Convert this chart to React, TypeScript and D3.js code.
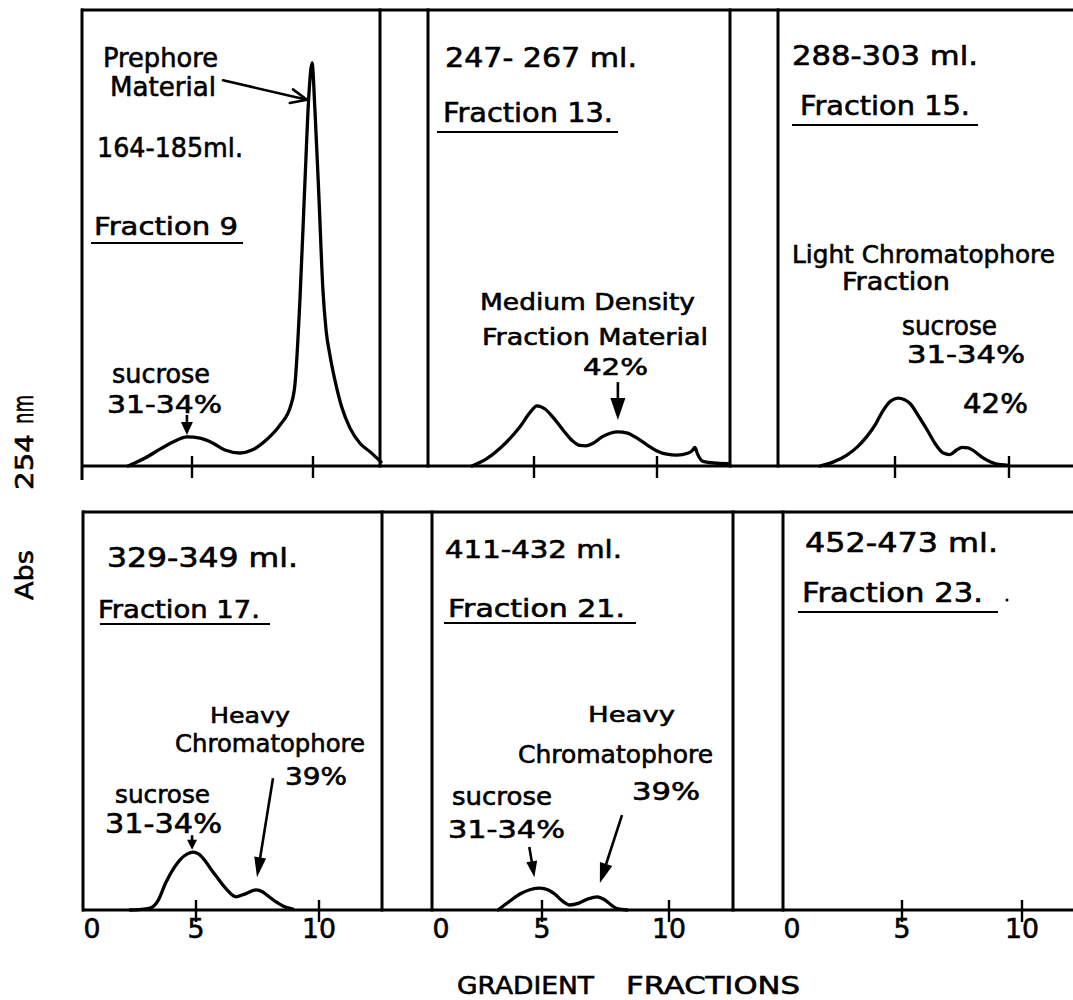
import React from 'react';
import * as d3 from 'd3';

// ---------- DATA (gradient fraction, absorbance in arbitrary units) ----------
const VOLUME_LABELS = ['164-185ml.', '247- 267 ml.', '288-303 ml.', '329-349 ml.', '411-432 ml.', '452-473 ml.'];
const FRACTION_LABELS = ['Fraction 9', 'Fraction 13.', 'Fraction 15.', 'Fraction 17.', 'Fraction 21.', 'Fraction 23.'];
const TICK_VALUES = [5, 10];
const TICK_LABELS = [0, 5, 10];
const X_TITLE = ['GRADIENT', 'FRACTIONS'];
const Y_TITLE = ['Abs', '254', 'nm'];

const frac9: [number, number][] = [
  [2.36, 0], [3.06, 1.75], [3.68, 3.7], [4.3, 5.5], [4.79, 6.4], [5.33, 6.1], [5.87, 5.0],
  [6.36, 3.5], [6.98, 2.85], [7.48, 3.5], [8.02, 5.5], [8.64, 9.0], [9.09, 13.4], [9.26, 18.2],
  [9.46, 36.4], [9.67, 62.7], [9.83, 81.4], [9.96, 88.4], [10.08, 78.1], [10.25, 58.3],
  [10.41, 38.6], [10.54, 29.8], [10.7, 24.3], [10.95, 17.8], [11.2, 12.7], [11.53, 8.3],
  [11.94, 5.0], [12.36, 3.1], [12.81, 0.9],
];
const frac13: [number, number][] = [
  [2.48, 0], [3.05, 1.5], [3.62, 3.9], [4.43, 8.6], [4.85, 11.8], [5.12, 13.2], [5.45, 12.5],
  [5.8, 10.5], [6.18, 7.9], [6.55, 5.6], [6.87, 4.5], [7.1, 4.4], [7.4, 5.0], [7.8, 6.5],
  [8.41, 7.5], [8.8, 7.2], [9.19, 6.1], [9.6, 4.6], [10.0, 3.3], [10.4, 2.6], [10.81, 2.4],
  [11.25, 2.8], [11.45, 3.5], [11.54, 4.1], [11.65, 2.6], [11.87, 1.0], [12.44, 0.6], [12.9, 0.5],
];
const frac15: [number, number][] = [
  [1.71, 0], [2.3, 0.9], [2.89, 2.4], [3.35, 4.2], [3.77, 6.5], [4.15, 9.2], [4.47, 12.1],
  [4.8, 14.2], [5.13, 14.9], [5.4, 14.6], [5.66, 13.7], [6.05, 10.8], [6.4, 8.0], [6.75, 5.0],
  [7.1, 2.9], [7.41, 2.5], [7.7, 3.5], [7.94, 4.1], [8.2, 4.0], [8.37, 3.6], [8.86, 1.8],
  [9.2, 0.9], [9.47, 0.4], [9.91, 0.2],
];
const frac17: [number, number][] = [
  [2.32, 0], [2.7, 0.1], [3.13, 0.4], [3.45, 2.0], [3.78, 6.1], [4.1, 9.2], [4.35, 11.0],
  [4.65, 12.3], [4.88, 12.7], [5.1, 12.3], [5.37, 10.8], [5.6, 9.0], [5.81, 7.5], [6.2, 4.8],
  [6.63, 2.9], [7.03, 3.6], [7.44, 4.4], [7.7, 4.0], [7.85, 3.4], [8.25, 1.8], [8.6, 0.7],
  [8.94, 0.2],
];
const frac21: [number, number][] = [
  [3.27, 0], [3.7, 1.8], [4.13, 3.5], [4.55, 4.5], [4.92, 4.8], [5.25, 4.4], [5.5, 3.5],
  [5.8, 2.0], [6.1, 1.1], [6.45, 1.5], [6.8, 2.4], [7.17, 2.9], [7.45, 2.3], [7.7, 1.2],
  [7.95, 0.3], [8.35, 0],
];
const frac23: [number, number][] = [];

const SERIES = [frac9, frac13, frac15, frac17, frac21, frac23];

// ---------- LAYOUT ----------
const W = 1073;
const H = 1000;
const PX_PER_UNIT = 4.56;
const ROWS = [
  { top: 10, base: 466 },
  { top: 512, base: 910 },
];
const PANELS = [
  { row: 0, left: 82, right: 380, x5: 192, x10: 313 },
  { row: 0, left: 428, right: 730, x5: 534, x10: 657 },
  { row: 0, left: 778, right: 1200, x5: 895, x10: 1009 },
  { row: 1, left: 83, right: 382, x5: 196, x10: 319 },
  { row: 1, left: 432, right: 733, x5: 542, x10: 669 },
  { row: 1, left: 783, right: 1200, x5: 902, x10: 1022 },
];

// header label positions [x, baseline, width, fontSize]
const VOL_POS = [
  [97, 157, 146, 26], [445, 67, 192, 27], [792, 65, 186, 27],
  [107, 567, 191, 26], [445, 558, 177, 25], [805, 552, 193, 27],
];
const FRAC_POS = [
  [94, 235, 144, 25], [443, 122, 170, 26], [800, 115, 170, 26],
  [98, 618, 162, 24], [448, 617, 177, 25], [802, 602, 181, 26],
];
// underline [y, x1, x2]
const UNDERLINES = [
  [243, 91, 243], [132, 437, 618], [125, 792, 978],
  [624, 100, 270], [623, 444, 636], [612, 798, 998],
];

type Note = { t: string; x: number; y: number; w: number; fs: number };
const NOTES: Note[][] = [
  [
    { t: 'Prephore', x: 103, y: 67, w: 115, fs: 27 },
    { t: 'Material', x: 110, y: 96, w: 106, fs: 27 },
    { t: 'sucrose', x: 112, y: 383, w: 98, fs: 27 },
    { t: '31-34%', x: 107, y: 413, w: 115, fs: 25 },
  ],
  [
    { t: 'Medium Density', x: 480, y: 310, w: 215, fs: 23 },
    { t: 'Fraction Material', x: 482, y: 345, w: 226, fs: 23 },
    { t: '42%', x: 583, y: 375, w: 65, fs: 23 },
  ],
  [
    { t: 'Light Chromatophore', x: 792, y: 263, w: 263, fs: 25 },
    { t: 'Fraction', x: 842, y: 290, w: 108, fs: 25 },
    { t: 'sucrose', x: 902, y: 335, w: 95, fs: 26 },
    { t: '31-34%', x: 907, y: 363, w: 118, fs: 24 },
    { t: '42%', x: 963, y: 413, w: 65, fs: 26 },
  ],
  [
    { t: 'Heavy', x: 210, y: 723, w: 80, fs: 22 },
    { t: 'Chromatophore', x: 175, y: 752, w: 190, fs: 24 },
    { t: '39%', x: 285, y: 785, w: 62, fs: 24 },
    { t: 'sucrose', x: 115, y: 803, w: 95, fs: 25 },
    { t: '31-34%', x: 105, y: 833, w: 117, fs: 26 },
  ],
  [
    { t: 'Heavy', x: 588, y: 722, w: 87, fs: 22 },
    { t: 'Chromatophore', x: 518, y: 763, w: 195, fs: 24 },
    { t: '39%', x: 632, y: 800, w: 68, fs: 24 },
    { t: 'sucrose', x: 452, y: 805, w: 100, fs: 25 },
    { t: '31-34%', x: 448, y: 838, w: 117, fs: 25 },
  ],
  [],
];

// arrows in data coordinates [f1, a1, f2, a2, headLength, headWidth, open]
const ARROWS: [number, number, number, number, number, number, boolean][][] = [
  [
    [6.28, 84.6, 9.75, 80.3, 16, 14, true],
    [4.79, 11.2, 4.79, 6.8, 13, 12, false],
  ],
  [[8.41, 18.4, 8.41, 10.1, 22, 15, false]],
  [],
  [
    [4.84, 16.4, 4.84, 13.2, 10, 10, false],
    [8.13, 28.9, 7.48, 7.2, 20, 12, false],
  ],
  [
    [4.5, 13.8, 4.7, 7.2, 16, 11, false],
    [8.15, 20.8, 7.28, 5.9, 20, 13, false],
  ],
  [],
];

const FONT = '"DejaVu Sans", "Liberation Sans", sans-serif';
const INK = '#000';
const TEXT_STROKE = 0.6;

function Arrow({ x1, y1, x2, y2, len, wid, open }: any) {
  const dx = x2 - x1;
  const dy = y2 - y1;
  const L = Math.hypot(dx, dy);
  const ux = dx / L;
  const uy = dy / L;
  const px = -uy;
  const py = ux;
  const bx = x2 - ux * len;
  const by = y2 - uy * len;
  if (open) {
    const a = [bx + px * wid / 2, by + py * wid / 2];
    const b = [bx - px * wid / 2, by - py * wid / 2];
    return (
      <g stroke={INK} strokeWidth={2.6} fill="none" strokeLinecap="round" strokeLinejoin="round">
        <line x1={x1} y1={y1} x2={x2} y2={y2} />
        <polyline points={`${a[0]},${a[1]} ${x2},${y2} ${b[0]},${b[1]}`} />
      </g>
    );
  }
  return (
    <g>
      <line x1={x1} y1={y1} x2={bx + ux * 2} y2={by + uy * 2} stroke={INK} strokeWidth={2.6} />
      <polygon
        points={`${x2},${y2} ${bx + px * wid / 2},${by + py * wid / 2} ${bx - px * wid / 2},${by - py * wid / 2}`}
        fill={INK}
      />
    </g>
  );
}

function Label({ t, x, y, w, fs, anchor, transform }: any) {
  return (
    <text
      x={x}
      y={y}
      transform={transform}
      fontSize={fs}
      fontFamily={FONT}
      fill={INK}
      stroke={INK}
      strokeWidth={TEXT_STROKE}
      textLength={w}
      lengthAdjust="spacingAndGlyphs"
      textAnchor={anchor || 'start'}
    >
      {t}
    </text>
  );
}

export default function App() {
  const line = d3.line<[number, number]>().curve(d3.curveMonotoneX);

  return (
    <svg
      width={W}
      height={H}
      viewBox={`0 0 ${W} ${H}`}
      style={{ position: 'absolute', left: 0, top: 0, background: '#fff' }}
    >
      <rect x={0} y={0} width={W} height={H} fill="#fff" />
      {ROWS.map((r, i) => {
        const left = PANELS[i * 3].left;
        return (
          <g key={'row' + i} stroke={INK} strokeWidth={3} fill="none">
            <line x1={left - 1} y1={r.top} x2={W} y2={r.top} />
            <line x1={left - 1} y1={r.base} x2={W} y2={r.base} />
          </g>
        );
      })}
      {PANELS.map((p, i) => {
        const r = ROWS[p.row];
        const x = d3.scaleLinear().domain([5, 10]).range([p.x5, p.x10]);
        const yMax = (r.base - r.top) / PX_PER_UNIT;
        const y = d3.scaleLinear().domain([0, yMax]).range([r.base, r.top]);
        const data = SERIES[i];
        const path = data.length ? line(data.map((d) => [x(d[0]), y(d[1])] as [number, number])) : null;
        const [vx, vy, vw, vfs] = VOL_POS[i];
        const [fx, fy, fw, ffs] = FRAC_POS[i];
        const [uy, ux1, ux2] = UNDERLINES[i];
        return (
          <g key={'p' + i}>
            <line
              x1={p.left}
              y1={r.top - 1.5}
              x2={p.left}
              y2={i % 3 === 0 && p.row === 0 ? r.base + 14 : r.base + 1.5}
              stroke={INK}
              strokeWidth={3}
            />
            {p.right < W && (
              <line x1={p.right} y1={r.top - 1.5} x2={p.right} y2={r.base + 1.5} stroke={INK} strokeWidth={3} />
            )}
            {TICK_VALUES.map((v) => (
              <line key={'t' + v} x1={x(v)} y1={r.base - 10} x2={x(v)} y2={r.base + 12} stroke={INK} strokeWidth={2.4} />
            ))}
            {p.row === 1 &&
              TICK_LABELS.map((v) => (
                <Label
                  key={'l' + v}
                  t={String(v)}
                  x={Math.max(x(v), p.left + 9)}
                  y={r.base + 28}
                  fs={27}
                  w={v === 10 ? 34 : 17}
                  anchor="middle"
                />
              ))}
            {path && (
              <path d={path} fill="none" stroke={INK} strokeWidth={3.3} strokeLinejoin="round" strokeLinecap="round" />
            )}
            <Label t={VOLUME_LABELS[i]} x={vx} y={vy} w={vw} fs={vfs} />
            <Label t={FRACTION_LABELS[i]} x={fx} y={fy} w={fw} fs={ffs} />
            <line x1={ux1} y1={uy} x2={ux2} y2={uy} stroke={INK} strokeWidth={2.2} />
            {NOTES[i].map((n, k) => (
              <Label key={'n' + k} {...n} />
            ))}
            {ARROWS[i].map((a, k) => (
              <Arrow
                key={'a' + k}
                x1={x(a[0])}
                y1={y(a[1])}
                x2={x(a[2])}
                y2={y(a[3])}
                len={a[4]}
                wid={a[5]}
                open={a[6]}
              />
            ))}
          </g>
        );
      })}
      <circle cx={1007} cy={600} r={1.5} fill={INK} />
      <Label t={X_TITLE[0]} x={457} y={994} w={137} fs={24} />
      <Label t={X_TITLE[1]} x={626} y={994} w={174} fs={24} />
      {[
        [600, 50, 25],
        [490, 56, 25],
        [424, 29, 29],
      ].map(([ys, len, fs], k) => (
        <Label
          key={'yt' + k}
          t={Y_TITLE[k]}
          x={0}
          y={0}
          transform={`translate(33,${ys}) rotate(-90)`}
          fs={fs}
          w={len}
        />
      ))}
    </svg>
  );
}
